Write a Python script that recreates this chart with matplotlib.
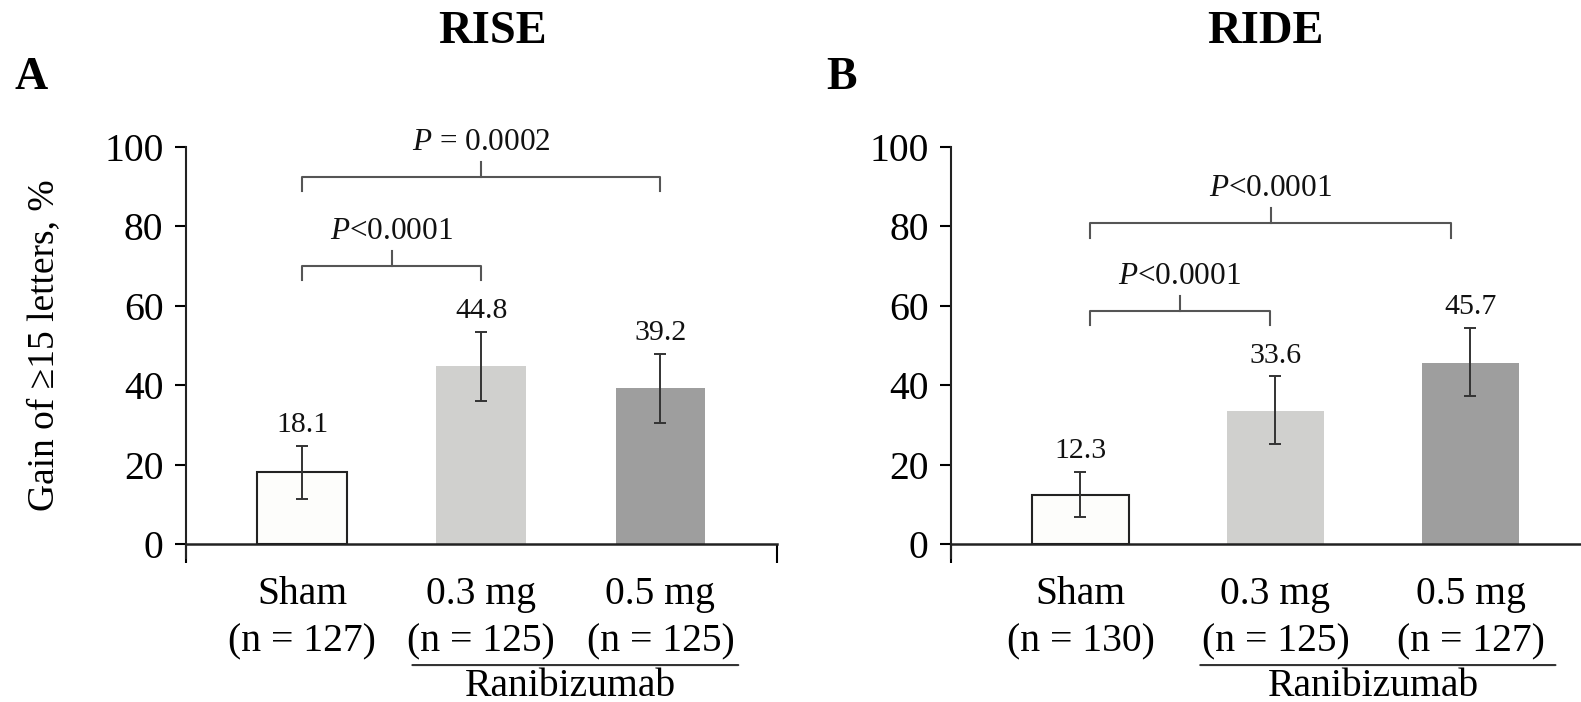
import matplotlib
matplotlib.use('Agg')
import matplotlib.pyplot as plt

plt.rcParams['font.family'] = ['Liberation Serif', 'DejaVu Serif']
plt.rcParams['mathtext.fontset'] = 'custom'
plt.rcParams['mathtext.rm'] = 'Liberation Serif'
plt.rcParams['mathtext.it'] = 'Liberation Serif:italic'

# data
groups = ['Sham', '0.3 mg', '0.5 mg']
rise_n = [127, 125, 125]
ride_n = [130, 125, 127]
rise_vals = [18.1, 44.8, 39.2]
ride_vals = [12.3, 33.6, 45.7]
rise_err_lo = [11.4, 35.9, 30.4]
rise_err_hi = [24.8, 53.3, 47.9]
ride_err_lo = [6.7, 25.3, 37.3]
ride_err_hi = [18.1, 42.2, 54.3]
rise_pvals = ['$P$<0.0001', '$P$ = 0.0002']
ride_pvals = ['$P$<0.0001', '$P$<0.0001']
rise_bracket_y = [70.0, 92.4]
ride_bracket_y = [58.7, 80.8]

bar_colors = ['#fdfdfb', '#d0d0ce', '#9e9e9e']
bar_edges = ['#222222', 'none', 'none']


def draw_panel(fig, rect, vals, lo, hi, ns, pvals, br_y, br_x, xlim):
    ax = fig.add_axes(rect)
    x = list(range(len(groups)))
    ax.bar(x, vals, width=0.5, color=bar_colors, edgecolor=bar_edges, linewidth=1.5, zorder=2)
    yerr = [[v - l for v, l in zip(vals, lo)], [h - v for v, h in zip(vals, hi)]]
    ax.errorbar(x, vals, yerr=yerr, fmt='none', ecolor='#333333', elinewidth=1.4,
                capsize=4, capthick=1.4, zorder=3)
    for xi, h, v in zip(x, hi, vals):
        ax.text(xi, h + 2.0, f'{v:.1f}', ha='center', va='bottom', fontsize=21.5, color='#111111')

    # significance brackets
    for (x0, x1), y, p in zip(br_x, br_y, pvals):
        xm = (x0 + x1) / 2
        ax.plot([x0, x0, x1, x1], [y - 3.6, y, y, y - 3.6], color='#555555', lw=1.5,
                clip_on=False, zorder=3)
        ax.plot([xm, xm], [y, y + 3.8], color='#555555', lw=1.5, clip_on=False, zorder=3)
        ax.text(xm, y + 8.8, p, ha='center', va='center', fontsize=22.5, color='#111111',
                clip_on=False)

    ax.set_ylim(0, 100)
    ax.set_xlim(*xlim)
    ax.set_yticks([0, 20, 40, 60, 80, 100])
    ax.tick_params(axis='y', direction='out', length=8, width=1.5, pad=8, labelsize=28.5)
    ax.set_xticks(list(xlim))
    ax.set_xticklabels(['', ''])
    ax.tick_params(axis='x', direction='out', length=14, width=1.5)
    ax.set_xticks(x, minor=True)
    ax.set_xticklabels([f'{g}\n(n = {n})' for g, n in zip(groups, ns)], minor=True,
                       fontsize=28.5, linespacing=1.36)
    ax.tick_params(axis='x', which='minor', length=0, pad=23)
    for s in ['top', 'right']:
        ax.spines[s].set_visible(False)
    ax.spines['left'].set_linewidth(1.5)
    ax.spines['bottom'].set_linewidth(1.8)
    ax.spines['left'].set_bounds(-3.5, 100)
    ax.spines['left'].set_color('#222222')
    ax.spines['bottom'].set_color('#222222')

    # Ranibizumab group line
    ax.annotate('', xy=(0.6, -30.5), xytext=(2.45, -30.5), xycoords='data',
                arrowprops=dict(arrowstyle='-', color='#333333', lw=1.5),
                annotation_clip=False)
    ax.text(1.5, -36.0, 'Ranibizumab', ha='center', va='center', fontsize=28.5,
            clip_on=False)
    return ax


fig = plt.figure(figsize=(15.81, 7.02), dpi=100)

ax1 = draw_panel(fig, [0.1174, 0.2251, 0.374, 0.5655], rise_vals, rise_err_lo, rise_err_hi,
                 rise_n, rise_pvals, rise_bracket_y, [(0, 1), (0, 2)], (-0.65, 2.65))
ax2 = draw_panel(fig, [0.6015, 0.2251, 0.4105, 0.5655], ride_vals, ride_err_lo, ride_err_hi,
                 ride_n, ride_pvals, ride_bracket_y, [(0.05, 0.97), (0.05, 1.9)],
                 (-0.664, 2.664))

ax1.set_ylabel('Gain of \u226515 letters, %', fontsize=27, labelpad=31)

fig.text(492 / 1581, 1 - 32 / 702, 'RISE', ha='center', va='center', fontsize=33.5,
         fontweight='bold')
fig.text(1265 / 1581, 1 - 32 / 702, 'RIDE', ha='center', va='center', fontsize=33.5,
         fontweight='bold')
fig.text(31 / 1581, 1 - 78 / 702, 'A', ha='center', va='center', fontsize=33,
         fontweight='bold')
fig.text(841 / 1581, 1 - 78 / 702, 'B', ha='center', va='center', fontsize=33,
         fontweight='bold')

fig.savefig('out.png', dpi=100)
